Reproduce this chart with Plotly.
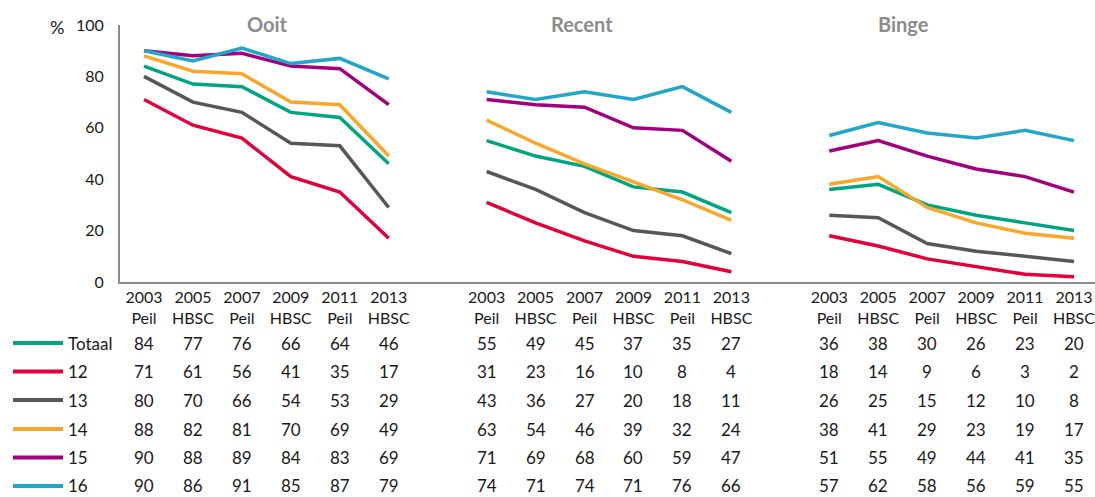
import plotly.graph_objects as go

panels = ["Ooit", "Recent", "Binge"]
years = ["2003", "2005", "2007", "2009", "2011", "2013"]
sources = ["Peil", "HBSC", "Peil", "HBSC", "Peil", "HBSC"]
series_names = ["Totaal", "12", "13", "14", "15", "16"]

ooit_totaal = [84, 77, 76, 66, 64, 46]
ooit_12 = [71, 61, 56, 41, 35, 17]
ooit_13 = [80, 70, 66, 54, 53, 29]
ooit_14 = [88, 82, 81, 70, 69, 49]
ooit_15 = [90, 88, 89, 84, 83, 69]
ooit_16 = [90, 86, 91, 85, 87, 79]

recent_totaal = [55, 49, 45, 37, 35, 27]
recent_12 = [31, 23, 16, 10, 8, 4]
recent_13 = [43, 36, 27, 20, 18, 11]
recent_14 = [63, 54, 46, 39, 32, 24]
recent_15 = [71, 69, 68, 60, 59, 47]
recent_16 = [74, 71, 74, 71, 76, 66]

binge_totaal = [36, 38, 30, 26, 23, 20]
binge_12 = [18, 14, 9, 6, 3, 2]
binge_13 = [26, 25, 15, 12, 10, 8]
binge_14 = [38, 41, 29, 23, 19, 17]
binge_15 = [51, 55, 49, 44, 41, 35]
binge_16 = [57, 62, 58, 56, 59, 55]

data = {
    "Ooit": [ooit_totaal, ooit_12, ooit_13, ooit_14, ooit_15, ooit_16],
    "Recent": [recent_totaal, recent_12, recent_13, recent_14, recent_15, recent_16],
    "Binge": [binge_totaal, binge_12, binge_13, binge_14, binge_15, binge_16],
}

colors = ["#00A582", "#E4003B", "#575757", "#F9A72A", "#A3007E", "#22A6C9"]

FONT = "Lato"
TXT = "#1a1a1a"

# positions: 6 slots per panel with one empty slot in between
pos = []
for p in range(3):
    pos.append([p * 7 + i for i in range(6)])

fig = go.Figure()
for s, name in enumerate(series_names):
    xs, ys = [], []
    for p, panel in enumerate(panels):
        xs += pos[p] + [None]
        ys += data[panel][s] + [None]
    fig.add_trace(go.Scatter(x=xs, y=ys, mode="lines", name=name,
                             line=dict(color=colors[s], width=3.5),
                             connectgaps=False, showlegend=False,
                             hoverinfo="skip"))

tickvals = [x for pp in pos for x in pp]
ticktext = [f"{y}<br>{src}" for _ in panels for y, src in zip(years, sources)]

W, H = 1095, 497
L, R, T, B = 120, 0, 25, 215
plot_h = H - T - B  # 257

def py(pix):
    return (H - B - pix) / plot_h

def px(pix):
    return (pix - L) / (W - L - R)

annotations = []
# panel titles
title_x = [267, 582, 903]
for t, xp in zip(panels, title_x):
    annotations.append(dict(text=t, x=px(xp), y=py(24), xref="paper", yref="paper",
                            showarrow=False, xanchor="center", yanchor="middle",
                            font=dict(family=FONT, size=20, color="#8C8C8C", weight="bold")))
# % label
annotations.append(dict(text="%", x=px(57), y=py(27), xref="paper", yref="paper",
                        showarrow=False, xanchor="center", yanchor="middle",
                        font=dict(family=FONT, size=18, color=TXT)))

row_y = [343, 371.5, 400, 429, 457.5, 486]
shapes = []
for s, name in enumerate(series_names):
    yy = py(row_y[s])
    shapes.append(dict(type="line", xref="paper", yref="paper",
                       x0=px(13), x1=px(63), y0=yy, y1=yy,
                       line=dict(color=colors[s], width=4)))
    annotations.append(dict(text=name, x=px(66), y=yy, xref="paper", yref="paper",
                            showarrow=False, xanchor="left", yanchor="middle",
                            font=dict(family=FONT, size=17, color=TXT)))
    for p, panel in enumerate(panels):
        for i, v in enumerate(data[panel][s]):
            annotations.append(dict(text=str(v), x=pos[p][i], y=yy, xref="x", yref="paper",
                                    showarrow=False, xanchor="center", yanchor="middle",
                                    font=dict(family=FONT, size=17, color=TXT)))

x0 = -24 / 48.95
x1 = 19 + 21 / 48.95

fig.update_layout(
    width=W, height=H,
    margin=dict(l=L, r=R, t=T, b=B),
    plot_bgcolor="white", paper_bgcolor="white",
    font=dict(family=FONT, size=15, color=TXT),
    xaxis=dict(range=[x0, x1], tickmode="array", tickvals=tickvals, ticktext=ticktext,
               showgrid=False, zeroline=False, showline=True, linecolor="#8C8C8C",
               linewidth=2, ticks="", ticklabeloverflow="allow",
               tickfont=dict(family=FONT, size=16, color=TXT)),
    yaxis=dict(range=[0, 100], tickvals=[0, 20, 40, 60, 80, 100], showgrid=False,
               zeroline=False, showline=True, linecolor="#8C8C8C", linewidth=2,
               ticks="", ticklabelstandoff=11,
               tickfont=dict(family=FONT, size=16, color=TXT)),
    annotations=annotations,
    shapes=shapes,
)

fig.write_html("out.html", config={"displayModeBar": False},
               post_script="document.body.style.margin='0';document.body.style.overflow='hidden';")
